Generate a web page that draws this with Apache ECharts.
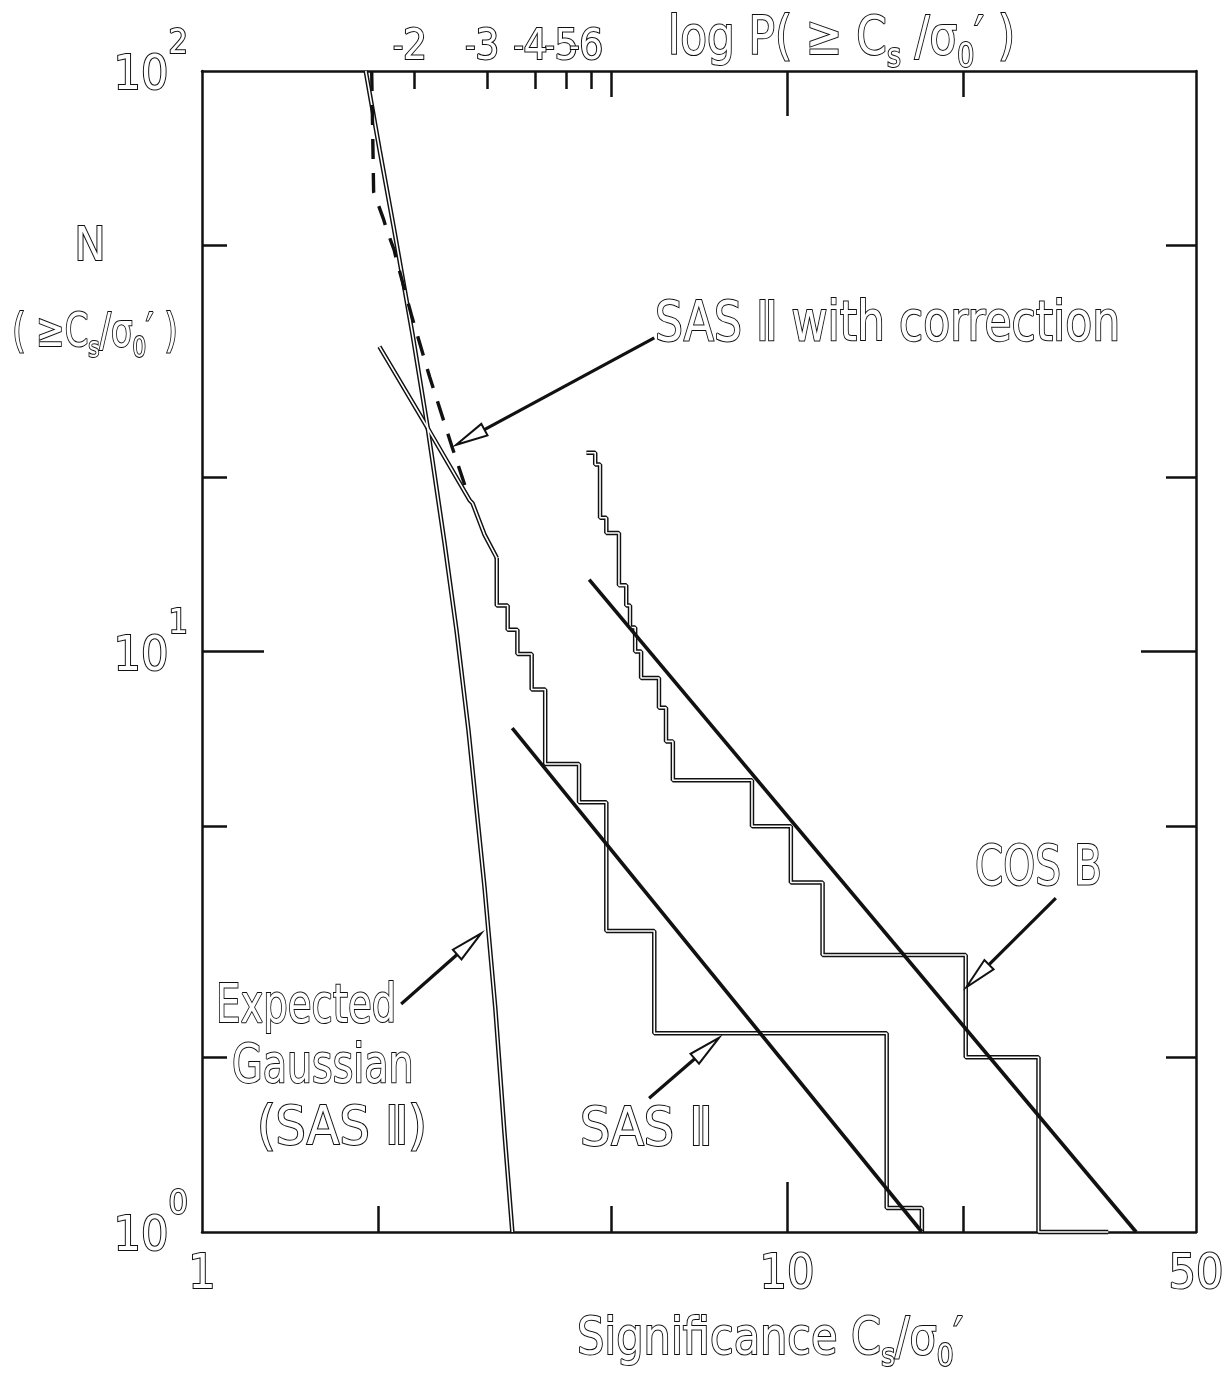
<!DOCTYPE html>
<html><head><meta charset="utf-8">
<script src="https://cdn.jsdelivr.net/npm/echarts@6/dist/echarts.min.js"></script>
<style>html,body{margin:0;padding:0;background:#fff}#c{width:1222px;height:1386px}</style>
</head><body><div id="c"></div>
<script>
// ---- data (x = significance Cs/sigma0', y = N(>= Cs/sigma0')) ----
const gaussX = [1.905, 2.012, 2.126, 2.291, 2.429, 2.597, 2.722, 2.854, 3.039, 3.172, 3.287, 3.392];
const gaussN = [100, 73.1, 53.9, 35.1, 24.4, 15.4, 10.9, 7.32, 3.94, 2.43, 1.49, 1.0];
const corrX = [1.95, 1.965, 2.04, 2.07, 2.13, 2.15, 2.28, 2.45, 2.68, 2.84];
const corrN = [100, 61.9, 55.8, 53.2, 49.2, 47.3, 38.0, 29.7, 22.4, 18.8];
const sasSlopeX = [2.01, 2.40, 2.87, 2.90, 3.04, 3.19];
const sasSlopeN = [33.5, 24.8, 18.2, 18.0, 15.9, 14.5];
const sasStepX = [3.19, 3.33, 3.46, 3.66, 3.86, 4.41, 4.91, 5.93, 14.8, 17.0, 17.0];
const sasStepN = [14.5, 12.0, 10.9, 9.9, 8.6, 6.4, 5.5, 3.3, 2.2, 1.1, 1.0];
const cosbX = [4.54, 4.70, 4.79, 4.91, 5.16, 5.31, 5.39, 5.50, 5.63, 6.04, 6.21, 6.38, 8.71, 10.15, 11.5, 20.2, 26.9, 35.4];
const cosbN = [22, 22, 21, 17, 16, 13, 12, 11, 10, 9, 8, 7, 6, 5, 4, 3, 2, 1];
const sasFitX = [3.39, 17.0];
const sasFitN = [7.38, 1.0];
const cosbFitX = [4.59, 39.5];
const cosbFitN = [13.3, 1.0];
// top axis: log P(>= Cs/sigma0')
const logPValues = [2.31, 3.07, 3.71, 4.19, 4.62];
const logPLabels = ['-2', '-3', '-4', '-5', '-6'];
const xLabelValues = [1, 10, 50];
const yLabelValues = [1, 10, 100];
const xMinorTicks = [2, 5, 20];
const xMajorTicks = [10];
const yMinorTicks = [2, 5, 20, 50];
const yMajorTicks = [10];
// annotation arrows in data coordinates [from, to]
const arrowFrom = [[5.93, 34.7], [28.8, 3.76], [2.19, 2.47], [5.81, 1.70]];
const arrowTo = [[2.72, 22.7], [20.25, 2.64], [3.00, 3.27], [7.65, 2.16]];

// ---- styling / building ----
const BLACK = '#111';
const FONT = "'DejaVu Sans Condensed','Liberation Sans Narrow',sans-serif";
const pts = (xs, ys) => xs.map((x, i) => [x, ys[i]]);
const lblStyle = { fontFamily: FONT, color: '#fff', textBorderColor: BLACK, textBorderWidth: 2 };

function xAx(position, o) {
  return Object.assign({
    type: 'log', logBase: 10, min: 1, max: 50, position: position, gridIndex: 0,
    splitLine: { show: false }, minorTick: { show: false }, minorSplitLine: { show: false },
    axisLine: { show: false }, axisTick: { show: false }, axisLabel: { show: false }
  }, o);
}
function yAx(position, o) {
  return Object.assign({
    type: 'log', logBase: 10, min: 1, max: 100, position: position, gridIndex: 0,
    splitLine: { show: false }, minorTick: { show: false }, minorSplitLine: { show: false },
    axisLine: { show: false }, axisTick: { show: false }, axisLabel: { show: false }
  }, o);
}
const axLine = { show: true, lineStyle: { color: BLACK, width: 2.5 } };
const tk = (vals, len) => ({ show: true, inside: true, length: len, customValues: vals, lineStyle: { color: BLACK, width: 2.5 } });

function nearestIdx(v) {
  let b = 0;
  logPValues.forEach((p, i) => { if (Math.abs(p - v) < Math.abs(logPValues[b] - v)) b = i; });
  return b;
}
// log P labels are spread over three top axes so that none is dropped as overlapping
function logPLabelAxis(idxs) {
  return xAx('top', { axisLabel: { show: true, customValues: idxs.map(i => logPValues[i]), margin: 2,
    hideOverlap: false, padding: [0, 9, 0, 0],
    formatter: v => { const t = logPLabels[nearestIdx(v)]; return '{m|' + t.charAt(0) + '}{d|' + t.slice(1) + '}'; },
    rich: { m: Object.assign({ fontSize: 30 }, lblStyle), d: Object.assign({ fontSize: 42 }, lblStyle) } } });
}

function hollow(data, extra) {
  const base = { type: 'line', symbol: 'none', silent: true, clip: false, xAxisIndex: 0, yAxisIndex: 0, animation: false };
  return [
    Object.assign({}, base, { data: data, lineStyle: { color: BLACK, width: 4.5 }, z: 3 }, extra),
    Object.assign({}, base, { data: data, lineStyle: { color: '#fff', width: 1.6 }, z: 4 }, extra)
  ];
}
function solid(data, extra) {
  return Object.assign({ type: 'line', symbol: 'none', silent: true, clip: false, xAxisIndex: 0, yAxisIndex: 0,
    data: data, lineStyle: { color: BLACK, width: 3.6 }, z: 5 }, extra);
}

const option = {
  animation: false,
  backgroundColor: '#fff',
  grid: { left: 202, right: 26, top: 71, bottom: 154, containLabel: false, outerBoundsMode: 'none' },
  xAxis: [
    xAx('bottom', { axisLine: axLine, axisTick: tk(xMinorTicks, 26),
      axisLabel: Object.assign({ show: true, customValues: xLabelValues, margin: 20, fontSize: 48, hideOverlap: false, formatter: v => String(Math.round(v)) }, lblStyle) }),
    xAx('bottom', { axisTick: tk(xMajorTicks, 50) }),
    xAx('top', { axisLine: axLine, axisTick: tk(logPValues, 18) }),
    xAx('top', { axisTick: tk([5, 20], 26) }),
    xAx('top', { axisTick: tk([10], 45) }),
    logPLabelAxis([0, 3]),
    logPLabelAxis([1, 4]),
    logPLabelAxis([2])
  ],
  yAxis: [
    yAx('left', { axisLine: axLine, axisTick: tk(yMinorTicks, 25),
      axisLabel: { show: true, customValues: yLabelValues, margin: 14, padding: [12, 0, 0, 0], hideOverlap: false,
        formatter: v => '{b|10}{s|' + Math.round(Math.log10(v)) + '}',
        rich: { b: Object.assign({ fontSize: 48, lineHeight: 100 }, lblStyle), s: Object.assign({ fontSize: 34, lineHeight: 34, verticalAlign: 'top' }, lblStyle) } } }),
    yAx('left', { axisTick: tk(yMajorTicks, 62) }),
    yAx('right', { axisLine: axLine, axisTick: tk(yMinorTicks, 30) }),
    yAx('right', { axisTick: tk(yMajorTicks, 55) })
  ],
  series: [].concat(
    hollow(pts(gaussX, gaussN), { name: 'Expected Gaussian (SAS Ⅱ)' }),
    [solid(pts(corrX, corrN), { name: 'SAS Ⅱ with correction', lineStyle: { color: BLACK, width: 3.4, type: [20, 14] } })],
    hollow(pts(sasSlopeX, sasSlopeN), { name: 'SAS Ⅱ' }),
    hollow(pts(sasStepX, sasStepN), { name: 'SAS Ⅱ', step: 'start' }),
    hollow(pts(cosbX, cosbN), { name: 'COS B', step: 'start' }),
    [solid(pts(sasFitX, sasFitN), { name: 'SAS Ⅱ fit' }), solid(pts(cosbFitX, cosbFitN), { name: 'COS B fit' })]
  )
};

const chart = echarts.init(document.getElementById('c'), null, { renderer: 'canvas' });
chart.setOption(option);

// ---- text annotations and arrows ----
const tStyle = (size) => ({ fontSize: size, fontFamily: FONT, fill: '#fff', stroke: BLACK, lineWidth: 2 });
function plainText(text, x, y, size, sx, align) {
  return { type: 'text', z: 10, silent: true, x: x, y: y, scaleX: sx, style: Object.assign({ text: text, x: 0, y: 0, align: align || 'left', verticalAlign: 'middle' }, tStyle(size)) };
}
function richText(text, x, y, size, sx, align) {
  return { type: 'text', z: 10, silent: true, x: x, y: y, scaleX: sx, style: Object.assign({ text: text, x: 0, y: 0, align: align || 'left', verticalAlign: 'middle',
    rich: { m: Object.assign({ lineHeight: Math.round(size * 1.3) }, tStyle(size)),
            s: Object.assign({ lineHeight: Math.round(size * 0.7), verticalAlign: 'bottom' }, tStyle(Math.round(size * 0.62))) } }, tStyle(size)) };
}
const CS = '{m|C}{s|s}';
const SIG = '{m|σ}{s|0}{m|′}';
const graphics = [
  plainText('SAS Ⅱ with correction', 655, 326, 55, 0.89),
  plainText('COS B', 975, 870, 55, 0.82),
  plainText('Expected', 216, 1008, 53, 0.81),
  plainText('Gaussian', 232, 1068, 53, 0.83),
  plainText('(SAS Ⅱ)', 257, 1130, 53, 1.0),
  plainText('SAS Ⅱ', 580, 1131, 53, 1.0),
  plainText('N', 90, 248, 46, 1.0, 'center'),
  richText('{m|( ≥}' + CS + '{m|/}' + SIG + '{m| )}', 95, 334, 46, 0.82, 'center'),
  richText('{m|Significance }' + CS + '{m|/}' + SIG, 577, 1340, 52, 0.92),
  richText('{m|log P( ≥ }' + CS + '{m| /}' + SIG + '{m| )}', 668, 40, 54, 0.9)
];
arrowFrom.forEach((f, i) => {
  const p0 = chart.convertToPixel({ xAxisIndex: 0, yAxisIndex: 0 }, f);
  const p1 = chart.convertToPixel({ xAxisIndex: 0, yAxisIndex: 0 }, arrowTo[i]);
  const dx = p1[0] - p0[0], dy = p1[1] - p0[1], L = Math.hypot(dx, dy);
  const ux = dx / L, uy = dy / L, nx = -uy, ny = ux;
  const hl = 32, hw = 6.5;
  const bx = p1[0] - hl * ux, by = p1[1] - hl * uy;
  graphics.push({ type: 'line', z: 9, silent: true, shape: { x1: p0[0], y1: p0[1], x2: bx, y2: by }, style: { stroke: BLACK, lineWidth: 3.2 } });
  graphics.push({ type: 'polygon', z: 9, silent: true, shape: { points: [[p1[0], p1[1]], [bx + hw * nx, by + hw * ny], [bx - hw * nx, by - hw * ny]] }, style: { fill: '#fff', stroke: BLACK, lineWidth: 2 } });
});
chart.setOption({ graphic: graphics });
</script>
</body></html>
